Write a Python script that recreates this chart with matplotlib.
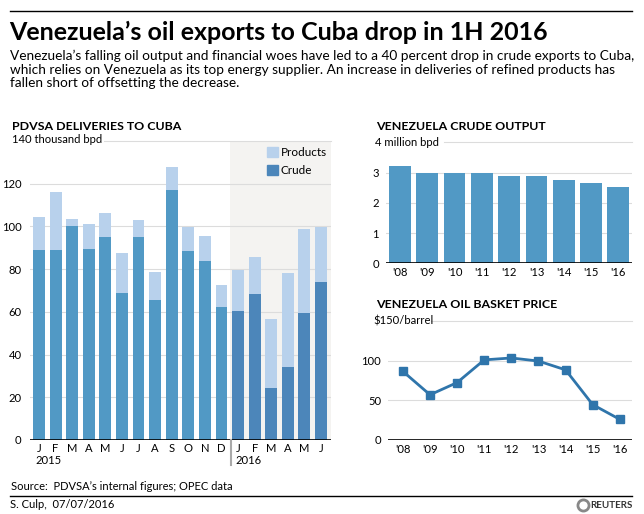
import matplotlib
matplotlib.use("Agg")
import matplotlib.pyplot as plt
from matplotlib.patches import Patch
import numpy as np

plt.rcParams["font.family"] = ["Lato", "DejaVu Sans"]

# PDVSA deliveries to Cuba, thousand bpd
months = ["J", "F", "M", "A", "M", "J", "J", "A", "S", "O", "N", "D",
          "J", "F", "M", "A", "M", "J"]
crude = [89, 89, 100, 89.5, 95, 69, 95, 65.5, 117, 88.5, 84, 62.5,
         60.5, 68.5, 24.5, 34, 59.5, 74]
total = [104.5, 116, 103.5, 101, 106.5, 87.5, 103, 78.5, 128, 99.5, 95.5, 72.5,
         79.5, 85.5, 56.5, 78, 99, 99.5]
products = [t - c for t, c in zip(total, crude)]

# Venezuela crude output, million bpd
years = ["'08", "'09", "'10", "'11", "'12", "'13", "'14", "'15", "'16"]
output = [3.22, 3.0, 2.97, 2.99, 2.90, 2.88, 2.77, 2.64, 2.51]

# Venezuela oil basket price, $/barrel
price = [86.5, 57, 72.4, 101, 103.4, 99.5, 88.4, 44.6, 26]

W, H = 644, 514
fig = plt.figure(figsize=(W / 100, H / 100), dpi=100)


def fx(x):
    return x / W


def fy(y):
    return 1 - y / H


def box(x0, y0, x1, y1):
    return [fx(x0), fy(y1), fx(x1) - fx(x0), fy(y0) - fy(y1)]


c15 = "#5199c5"
c16 = "#4c86ba"
cprod = "#b8d1ec"
grid = "#dcdcdc"
tfs = 8.1   # tick / unit label size
hfs = 8.9   # panel heading size

# header
fig.add_artist(plt.Line2D([fx(10), fx(632)], [fy(11), fy(11)], color="black", lw=1))
fig.text(fx(9), fy(32), "Venezuela\u2019s oil exports to Cuba drop in 1H 2016",
         fontsize=18, fontweight="bold", va="center", ha="left")
fig.text(fx(10), fy(50),
         "Venezuela\u2019s falling oil output and financial woes have led to a 40 percent drop in crude exports to Cuba,\n"
         "which relies on Venezuela as its top energy supplier. An increase in deliveries of refined products has\n"
         "fallen short of offsetting the decrease.",
         fontsize=9.8, va="top", ha="left", linespacing=1.15)

# ---------------- left: deliveries ----------------
ax = fig.add_axes(box(30, 141, 331, 440))
x = np.arange(len(months))
colors = [c15] * 12 + [c16] * 6
ax.axvspan(11.5, 17.6, color="#f4f3f1", zorder=0, lw=0)
for v in [20, 40, 60, 80, 100, 120]:
    ax.axhline(v, color=grid, lw=0.8, zorder=1)
ax.bar(x, crude, 0.72, color=colors, zorder=2)
ax.bar(x, products, 0.72, bottom=crude, color=cprod, zorder=2)
ax.set_xlim(-0.54, 17.6)
ax.set_ylim(0, 140)
ax.axhline(0, color="black", lw=1.2, zorder=3)
ax.set_yticks([0, 20, 40, 60, 80, 100, 120])
ax.set_xticks(x)
ax.set_xticklabels(months)
ax.tick_params(length=0, labelsize=tfs, pad=2)
ax.tick_params(axis="y", pad=6)
for s in ax.spines.values():
    s.set_visible(False)
ax.patch.set_alpha(0)
fig.text(fx(12), fy(127), "PDVSA DELIVERIES TO CUBA", fontsize=hfs, fontweight="bold", va="center")
fig.text(fx(12), fy(140), "140 thousand bpd", fontsize=tfs, va="center")
fig.add_artist(plt.Line2D([fx(104), fx(331)], [fy(141), fy(141)], color=grid, lw=0.8))
fig.text(fx(35), fy(460), "2015", fontsize=tfs, va="center")
fig.text(fx(235), fy(460), "2016", fontsize=tfs, va="center")
fig.add_artist(plt.Line2D([fx(231), fx(231)], [fy(440), fy(465)], color="#aaaaaa", lw=1.5))
ax.legend([Patch(color=cprod), Patch(color=c16)], ["Products", "Crude"],
          loc="upper left", bbox_to_anchor=(fx(259), fy(139)),
          bbox_transform=fig.transFigure, frameon=False, fontsize=8.5,
          handlelength=0.9, handleheight=0.9, handletextpad=0.25,
          labelspacing=0.55, borderpad=0.2)

# ---------------- top right: crude output ----------------
ax2 = fig.add_axes(box(386, 142.3, 632, 263.3))
xi = np.arange(len(years))
for v in [1, 2, 3]:
    ax2.axhline(v, color=grid, lw=0.8, zorder=1)
ax2.bar(xi, output, 0.8, color=c15, zorder=2)
ax2.set_xlim(-0.51, 8.5)
ax2.set_ylim(0, 4)
ax2.axhline(0, color="black", lw=1.2, zorder=3)
ax2.set_yticks([0, 1, 2, 3])
ax2.set_xticks(xi)
ax2.set_xticklabels(years)
ax2.tick_params(length=0, labelsize=tfs, pad=3)
ax2.tick_params(axis="y", pad=5)
for s in ax2.spines.values():
    s.set_visible(False)
fig.text(fx(376), fy(126), "VENEZUELA CRUDE OUTPUT", fontsize=hfs, fontweight="bold", va="center")
fig.text(fx(375), fy(142), "4 million bpd", fontsize=tfs, va="center")
fig.add_artist(plt.Line2D([fx(444), fx(632)], [fy(142.3), fy(142.3)], color=grid, lw=0.8))

# ---------------- bottom right: oil price ----------------
ax3 = fig.add_axes(box(388, 321, 632, 440))
for v in [50, 100]:
    ax3.axhline(v, color=grid, lw=0.8, zorder=1)
ax3.plot(xi, price, color="#2f75ab", lw=2, marker="s", markersize=6, zorder=3)
ax3.set_xlim(-0.55, 8.45)
ax3.set_ylim(0, 150)
ax3.axhline(0, color="black", lw=1.2, zorder=2)
ax3.set_yticks([0, 50, 100])
ax3.set_xticks(xi)
ax3.set_xticklabels(years)
ax3.tick_params(length=0, labelsize=tfs, pad=3)
ax3.tick_params(axis="y", pad=5)
for s in ax3.spines.values():
    s.set_visible(False)
fig.text(fx(376), fy(305), "VENEZUELA OIL BASKET PRICE", fontsize=hfs, fontweight="bold", va="center")
fig.text(fx(373), fy(321), "$150/barrel", fontsize=tfs, va="center")
fig.add_artist(plt.Line2D([fx(431), fx(632)], [fy(321), fy(321)], color=grid, lw=0.8))

# footer
fig.text(fx(11), fy(486), "Source:  PDVSA\u2019s internal figures; OPEC data", fontsize=8, va="center")
fig.add_artist(plt.Line2D([fx(10), fx(632)], [fy(496), fy(496)], color="black", lw=1))
fig.text(fx(10), fy(505), "S. Culp,  07/07/2016", fontsize=8, va="center")
fig.add_artist(plt.Line2D([fx(583)], [fy(505)], marker="o", markersize=8,
                          color="#888888", markerfacecolor="white", markeredgewidth=2))
fig.text(fx(590), fy(505), "REUTERS", fontsize=7, fontweight="bold", va="center", color="#333333")

fig.savefig("out.png", dpi=100)
